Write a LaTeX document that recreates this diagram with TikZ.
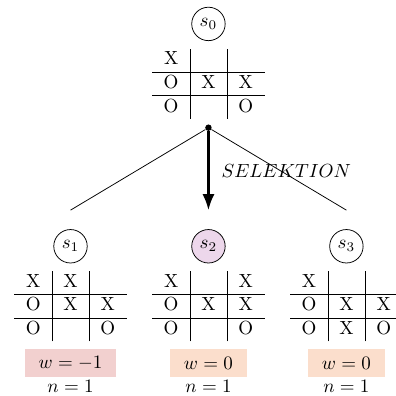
\documentclass[tikz,border=0pt]{standalone}
\usepackage{amsmath}
\usetikzlibrary{arrows.meta,positioning}
\definecolor{stateHi}{RGB}{237,215,235}
\definecolor{wNeg}{RGB}{242,208,207}
\definecolor{wZero}{RGB}{251,222,204}

\begin{document}
\begin{tikzpicture}[
  node distance=4pt,
  state/.style={draw, circle, minimum size=17.6pt, inner sep=1pt},
  board/.style={inner sep=0pt},
  dot/.style={circle, fill, inner sep=0pt, minimum size=3.4pt},
  value/.style={inner xsep=7.3pt, inner ysep=3.33pt, minimum height=15pt},
  visits/.style={inner sep=2pt},
  sel/.style={-{Latex}, very thick}
]
\useasboundingbox (-109.7pt,12.6pt) rectangle (98.2pt,-195.8pt);
\node[state] (s0) at (0,0) {$s_0$};
\node[board, below=of s0] (b0) {\begin{tabular}{c|c|c}
X & & \\ \hline O & X & X \\ \hline O & & O
\end{tabular}};
\node[dot, below=2.5pt of b0] (d) {};

\node[state, fill=stateHi, below=51.5pt of d] (s2) {$s_2$};
\node[state, left=54.6pt of s2] (s1) {$s_1$};
\node[state, right=54.6pt of s2] (s3) {$s_3$};
\coordinate[above=10pt of s1] (e1);
\coordinate[above=10pt of s2] (e2);
\coordinate[above=10pt of s3] (e3);

\node[board, below=of s1] (b1) {\begin{tabular}{c|c|c}
X & X & \\ \hline O & X & X \\ \hline O & & O
\end{tabular}};
\node[board, below=of s2] (b2) {\begin{tabular}{c|c|c}
X & & X \\ \hline O & X & X \\ \hline O & & O
\end{tabular}};
\node[board, below=of s3] (b3) {\begin{tabular}{c|c|c}
X & & \\ \hline O & X & X \\ \hline O & X & O
\end{tabular}};

\node[value, fill=wNeg, below=3.5pt of b1] (w1) {$w=-1$};
\node[value, fill=wZero, below=3.5pt of b2] (w2) {$w=0$};
\node[value, fill=wZero, below=3.5pt of b3] (w3) {$w=0$};
\node[visits, below=-1pt of w1] (n1) {$n=1$};
\node[visits, below=-1pt of w2] (n2) {$n=1$};
\node[visits, below=-1pt of w3] (n3) {$n=1$};

\draw (d) -- (e1);
\draw (d) -- (e3);
\draw[sel] (d) -- node[right=3pt] {$SELEKTION$} (e2);
\end{tikzpicture}
\end{document}
